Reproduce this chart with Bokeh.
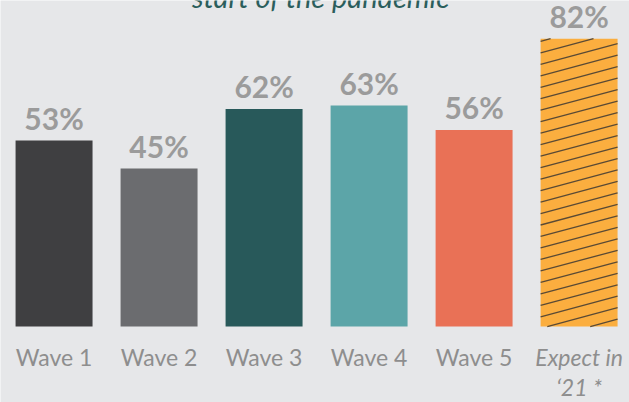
import numpy as np
from bokeh.plotting import figure
from bokeh.models import Range1d, ColumnDataSource
from bokeh.core.properties import value
from bokeh.embed import file_html
from bokeh.resources import INLINE

# ---- data ----
categories = ["Wave 1", "Wave 2", "Wave 3", "Wave 4", "Wave 5", "Expect in\n\u201821 *"]
values = [53, 45, 62, 63, 56, 82]
colors = ["#3f3f41", "#6b6c6f", "#28595a", "#5ca5a8", "#e97156", "#fbae3f"]
label_styles = ["normal", "normal", "normal", "normal", "normal", "italic"]
hatched = [False, False, False, False, False, True]
title_text = "start of the pandemic"

BG = "#e6e7e9"
BAR_W = 0.733

x = [i + 0.5 for i in range(len(categories))]
line1 = [c.split("\n")[0] for c in categories]
line2 = [c.split("\n")[1] if "\n" in c else "" for c in categories]

p = figure(width=629, height=402, output_backend="svg", toolbar_location=None,
           x_range=Range1d(-0.01, 5.98), y_range=Range1d(-21.65, 92.88),
           x_axis_location=None, y_axis_location=None, min_border=0)
p.background_fill_color = BG
p.border_fill_color = BG
p.outline_line_color = None
p.xgrid.visible = False
p.ygrid.visible = False

src = ColumnDataSource(dict(x=x, top=values, color=colors,
                            lab=[f"{v}%" for v in values],
                            laby=[v + 6.5 for v in values],
                            l1=line1, l2=line2, style=label_styles))
p.vbar(x="x", top="top", bottom=0, width=BAR_W, fill_color="color", line_color=None, source=src)

# hatch lines for hatched bars (shallow diagonal)
slope = 8.0      # % per x-unit
spacing = 3.27   # % between lines
phase = 9.3
xs0, ys0, xs1, ys1 = [], [], [], []
for xi, v, h in zip(x, values, hatched):
    if not h:
        continue
    xl, xr = xi - BAR_W / 2, xi + BAR_W / 2
    w = xr - xl
    kmin = int(np.floor((-slope * w - phase) / spacing)) - 1
    kmax = int(np.ceil((v - phase) / spacing)) + 1
    for k in range(kmin, kmax + 1):
        yl = phase + k * spacing
        a_x, a_y = xl, yl
        b_x, b_y = xr, yl + slope * w
        if b_y <= 0 or a_y >= v:
            continue
        if a_y < 0:
            a_x = xl + (0 - yl) / slope
            a_y = 0
        if b_y > v:
            b_x = xl + (v - yl) / slope
            b_y = v
        xs0.append(a_x); ys0.append(a_y); xs1.append(b_x); ys1.append(b_y)
p.segment(x0=xs0, y0=ys0, x1=xs1, y1=ys1, line_color="#5a4a35", line_width=1.3)

# value labels
p.text(x="x", y="laby", text="lab", source=src, text_align="center",
       text_baseline="alphabetic", text_font=value("Lato"), text_font_style="bold",
       text_font_size="30px", text_color="#9b9b9b")

# category labels
p.text(x="x", y=-8.7, text="l1", source=src, text_align="center",
       text_baseline="alphabetic", text_font=value("Lato"), text_font_style="style",
       text_font_size="23px", text_color="#8e8e8e")
p.text(x="x", y=-17.2, text="l2", source=src, text_align="center",
       text_baseline="alphabetic", text_font=value("Lato"), text_font_style="style",
       text_font_size="23px", text_color="#8e8e8e")

# cut-off title at top
p.text(x=[4.27], y=[93.9], text=[title_text], text_align="right",
       text_baseline="alphabetic", text_font=value("Lato"), text_font_style="italic",
       text_font_size="29px", text_color="#2b5e5c")

open("out.html", "w").write(file_html(p, INLINE))
